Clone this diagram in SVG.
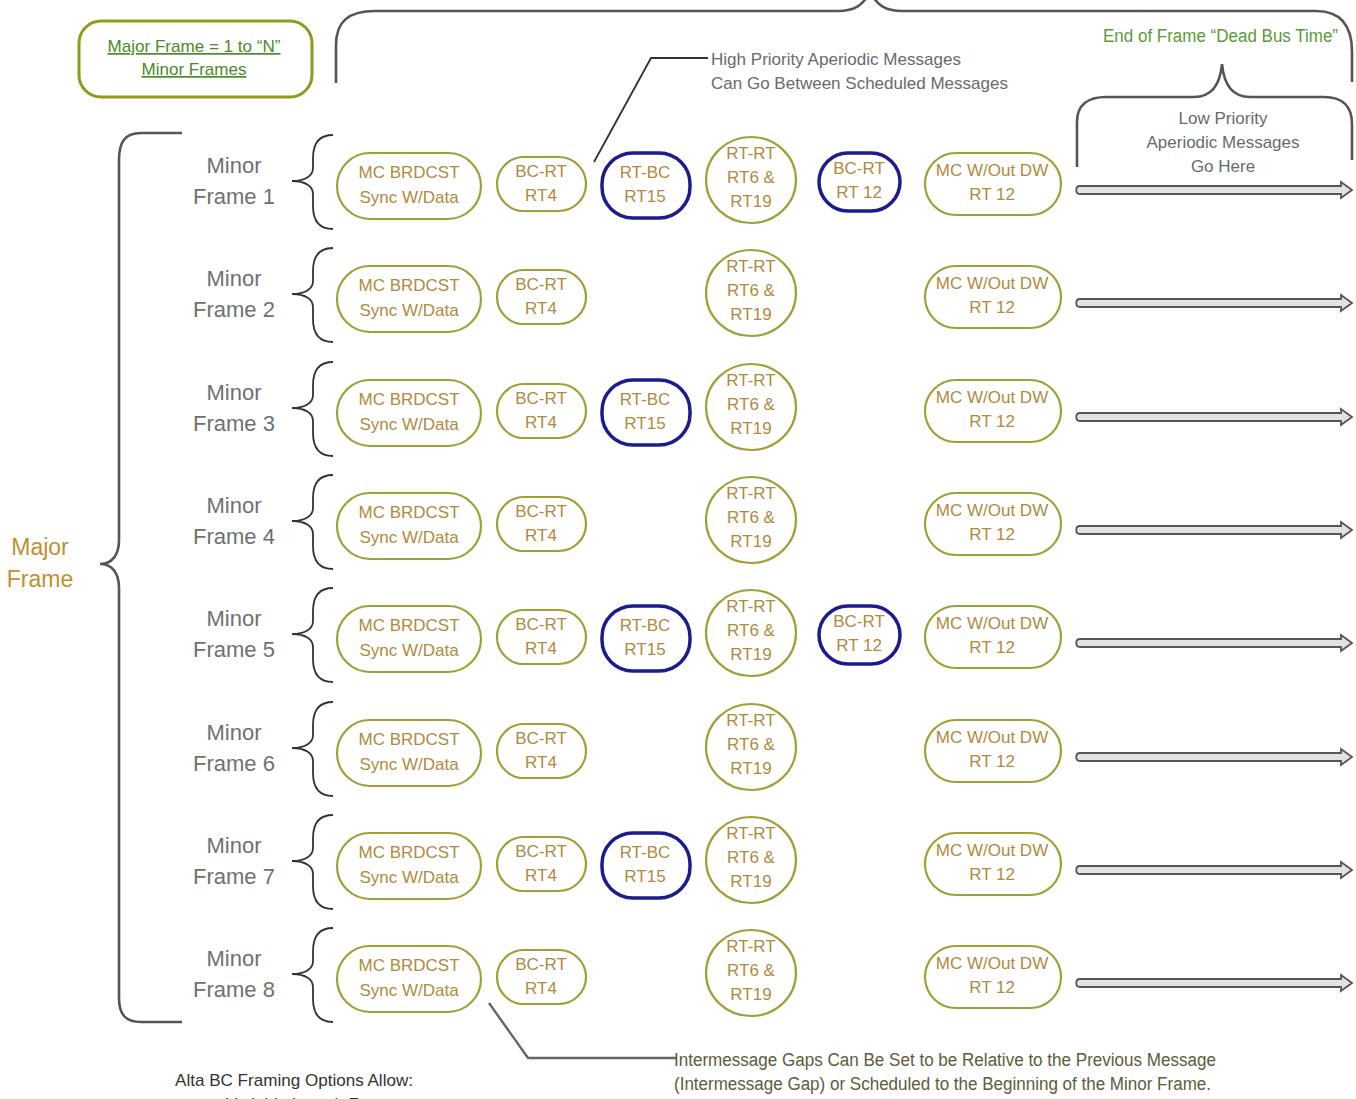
<svg xmlns="http://www.w3.org/2000/svg" width="1356" height="1099" viewBox="0 0 1356 1099">
<style>
text{font-family:"Liberation Sans",Arial,sans-serif}
.nt{font-size:17px;fill:#b08a3e;text-anchor:middle}
.mf{font-size:22px;fill:#707070;text-anchor:middle}
.ol{fill:#fff;stroke:#a0a038;stroke-width:2.2}
.bl{fill:#fff;stroke:#1c1c8e;stroke-width:3.5}
.br{fill:none;stroke:#333;stroke-width:1.8}
.bb{fill:none;stroke:#555;stroke-width:2.6}
.ld{fill:none;stroke:#333;stroke-width:1.8}
.ar{fill:#e2e2e2;stroke:#555;stroke-width:1.8;stroke-linejoin:miter}
.gt{font-size:17px;fill:#6a6a6a}
</style>
<rect width="1356" height="1099" fill="#fff"/>

<g id="connectors">
<path class="bb" d="M336,83 L336,45 C336,22 348,11 375,11 L838,11 C855,11 863,5 870,-8 C877,5 885,11 902,11 L1316,11 C1340,11 1352,25 1352,52 L1352,82"/>
<path class="bb" d="M1077,167 L1077,122 C1077,105 1088,97 1106,97 L1194,97 C1211,97 1220,86 1222,64 C1224,86 1233,97 1250,97 L1324,97 C1342,97 1352,106 1352,124 L1352,160"/>
<path class="bb" d="M182,133 L141,133 C125,133 119,142 119,160 L119,540 C119,555 112,564 100,564 C112,564 119,573 119,588 L119,998 C119,1014 125,1022 141,1022 L182,1022"/>
<path class="ld" d="M594,162 L651,58 L708,58"/>
<path class="ld" style="stroke:#666;stroke-width:2.4" d="M489,1003 L528,1058 L676,1058"/>
</g>

<g id="major-frame-box">
<rect x="79" y="21" width="233" height="76" rx="22" fill="#fff" stroke="#8f9a1e" stroke-width="3"/>
<text x="194" y="52" font-size="17" fill="#4a8a2a" text-anchor="middle" text-decoration="underline" textLength="173" lengthAdjust="spacingAndGlyphs">Major Frame = 1 to “N”</text>
<text x="194" y="75" font-size="17" fill="#4a8a2a" text-anchor="middle" text-decoration="underline">Minor Frames</text>
</g>

<g id="major-frame-label">
<text x="40" y="555" font-size="23" fill="#c0902e" text-anchor="middle">Major</text>
<text x="40" y="587" font-size="23" fill="#c0902e" text-anchor="middle">Frame</text>
</g>

<g id="high-priority-note">
<text class="gt" x="711" y="65" textLength="250" lengthAdjust="spacingAndGlyphs">High Priority Aperiodic Messages</text>
<text class="gt" x="711" y="89" textLength="297" lengthAdjust="spacingAndGlyphs">Can Go Between Scheduled Messages</text>
</g>

<g id="dead-bus-note">
<text x="1103" y="42" font-size="18" fill="#5a9a3a" textLength="235" lengthAdjust="spacingAndGlyphs">End of Frame “Dead Bus Time”</text>
</g>

<g id="low-priority-note">
<text class="gt" x="1223" y="124" text-anchor="middle">Low Priority</text>
<text class="gt" x="1223" y="148" text-anchor="middle" textLength="153" lengthAdjust="spacingAndGlyphs">Aperiodic Messages</text>
<text class="gt" x="1223" y="172" text-anchor="middle">Go Here</text>
</g>

<g id="intermessage-note">
<text x="674" y="1066" font-size="18" fill="#5c5c3c" textLength="542" lengthAdjust="spacingAndGlyphs">Intermessage Gaps Can Be Set to be Relative to the Previous Message</text>
<text x="674" y="1090" font-size="18" fill="#5c5c3c" textLength="537" lengthAdjust="spacingAndGlyphs">(Intermessage Gap) or Scheduled to the Beginning of the Minor Frame.</text>
</g>

<g id="framing-options">
<text x="175" y="1086" font-size="17" fill="#333" textLength="238" lengthAdjust="spacingAndGlyphs">Alta BC Framing Options Allow:</text>
<text x="226" y="1110" font-size="17" fill="#333">Variable Length Frames</text>
</g>

<!-- Row 1 -->
<g id="row1">
<g id="mf1-label"><path class="br" d="M333,135 C318,135 313,145 313,158 L313,168 C313,176 305,181 292,181 C305,181 313,186 313,194 L313,206 C313,219 318,229 333,229"/><text class="mf" x="234" y="173">Minor</text><text class="mf" x="234" y="204">Frame 1</text></g>
<g id="mf1-mc"><rect class="ol" x="337" y="153" width="144" height="66" rx="33"/><text class="nt" x="409" y="178">MC BRDCST</text><text class="nt" x="409" y="203">Sync W/Data</text></g>
<g id="mf1-bcrt4"><rect class="ol" x="497" y="157" width="89" height="54" rx="27"/><text class="nt" x="541" y="177">BC-RT</text><text class="nt" x="541" y="201">RT4</text></g>
<g id="mf1-rtbc15"><rect class="bl" x="602" y="153" width="88" height="65" rx="31"/><text class="nt" x="645" y="178">RT-BC</text><text class="nt" x="645" y="202">RT15</text></g>
<g id="mf1-rtrt"><ellipse class="ol" cx="751" cy="180" rx="45" ry="43"/><text class="nt" x="751" y="159">RT-RT</text><text class="nt" x="751" y="183">RT6 &amp;</text><text class="nt" x="751" y="207">RT19</text></g>
<g id="mf1-bcrt12"><rect class="bl" x="819" y="153" width="81" height="58" rx="29"/><text class="nt" x="859" y="174">BC-RT</text><text class="nt" x="859" y="198">RT 12</text></g>
<g id="mf1-mcwo"><rect class="ol" x="925" y="153" width="136" height="62" rx="31"/><text class="nt" x="992" y="176">MC W/Out DW</text><text class="nt" x="992" y="200">RT 12</text></g>
<g id="mf1-arrow"><path class="ar" d="M1080,186 L1341,186 L1341,182 L1352,190 L1341,198 L1341,194 L1080,194 C1075,194 1075,186 1080,186 Z"/></g>
</g>

<!-- Row 2 -->
<g id="row2" transform="translate(0,113)">
<g id="mf2-label"><path class="br" d="M333,135 C318,135 313,145 313,158 L313,168 C313,176 305,181 292,181 C305,181 313,186 313,194 L313,206 C313,219 318,229 333,229"/><text class="mf" x="234" y="173">Minor</text><text class="mf" x="234" y="204">Frame 2</text></g>
<g id="mf2-mc"><rect class="ol" x="337" y="153" width="144" height="66" rx="33"/><text class="nt" x="409" y="178">MC BRDCST</text><text class="nt" x="409" y="203">Sync W/Data</text></g>
<g id="mf2-bcrt4"><rect class="ol" x="497" y="157" width="89" height="54" rx="27"/><text class="nt" x="541" y="177">BC-RT</text><text class="nt" x="541" y="201">RT4</text></g>
<g id="mf2-rtrt"><ellipse class="ol" cx="751" cy="180" rx="45" ry="43"/><text class="nt" x="751" y="159">RT-RT</text><text class="nt" x="751" y="183">RT6 &amp;</text><text class="nt" x="751" y="207">RT19</text></g>
<g id="mf2-mcwo"><rect class="ol" x="925" y="153" width="136" height="62" rx="31"/><text class="nt" x="992" y="176">MC W/Out DW</text><text class="nt" x="992" y="200">RT 12</text></g>
<g id="mf2-arrow"><path class="ar" d="M1080,186 L1341,186 L1341,182 L1352,190 L1341,198 L1341,194 L1080,194 C1075,194 1075,186 1080,186 Z"/></g>
</g>

<!-- Row 3 -->
<g id="row3" transform="translate(0,227)">
<g id="mf3-label"><path class="br" d="M333,135 C318,135 313,145 313,158 L313,168 C313,176 305,181 292,181 C305,181 313,186 313,194 L313,206 C313,219 318,229 333,229"/><text class="mf" x="234" y="173">Minor</text><text class="mf" x="234" y="204">Frame 3</text></g>
<g id="mf3-mc"><rect class="ol" x="337" y="153" width="144" height="66" rx="33"/><text class="nt" x="409" y="178">MC BRDCST</text><text class="nt" x="409" y="203">Sync W/Data</text></g>
<g id="mf3-bcrt4"><rect class="ol" x="497" y="157" width="89" height="54" rx="27"/><text class="nt" x="541" y="177">BC-RT</text><text class="nt" x="541" y="201">RT4</text></g>
<g id="mf3-rtbc15"><rect class="bl" x="602" y="153" width="88" height="65" rx="31"/><text class="nt" x="645" y="178">RT-BC</text><text class="nt" x="645" y="202">RT15</text></g>
<g id="mf3-rtrt"><ellipse class="ol" cx="751" cy="180" rx="45" ry="43"/><text class="nt" x="751" y="159">RT-RT</text><text class="nt" x="751" y="183">RT6 &amp;</text><text class="nt" x="751" y="207">RT19</text></g>
<g id="mf3-mcwo"><rect class="ol" x="925" y="153" width="136" height="62" rx="31"/><text class="nt" x="992" y="176">MC W/Out DW</text><text class="nt" x="992" y="200">RT 12</text></g>
<g id="mf3-arrow"><path class="ar" d="M1080,186 L1341,186 L1341,182 L1352,190 L1341,198 L1341,194 L1080,194 C1075,194 1075,186 1080,186 Z"/></g>
</g>

<!-- Row 4 -->
<g id="row4" transform="translate(0,340)">
<g id="mf4-label"><path class="br" d="M333,135 C318,135 313,145 313,158 L313,168 C313,176 305,181 292,181 C305,181 313,186 313,194 L313,206 C313,219 318,229 333,229"/><text class="mf" x="234" y="173">Minor</text><text class="mf" x="234" y="204">Frame 4</text></g>
<g id="mf4-mc"><rect class="ol" x="337" y="153" width="144" height="66" rx="33"/><text class="nt" x="409" y="178">MC BRDCST</text><text class="nt" x="409" y="203">Sync W/Data</text></g>
<g id="mf4-bcrt4"><rect class="ol" x="497" y="157" width="89" height="54" rx="27"/><text class="nt" x="541" y="177">BC-RT</text><text class="nt" x="541" y="201">RT4</text></g>
<g id="mf4-rtrt"><ellipse class="ol" cx="751" cy="180" rx="45" ry="43"/><text class="nt" x="751" y="159">RT-RT</text><text class="nt" x="751" y="183">RT6 &amp;</text><text class="nt" x="751" y="207">RT19</text></g>
<g id="mf4-mcwo"><rect class="ol" x="925" y="153" width="136" height="62" rx="31"/><text class="nt" x="992" y="176">MC W/Out DW</text><text class="nt" x="992" y="200">RT 12</text></g>
<g id="mf4-arrow"><path class="ar" d="M1080,186 L1341,186 L1341,182 L1352,190 L1341,198 L1341,194 L1080,194 C1075,194 1075,186 1080,186 Z"/></g>
</g>

<!-- Row 5 -->
<g id="row5" transform="translate(0,453)">
<g id="mf5-label"><path class="br" d="M333,135 C318,135 313,145 313,158 L313,168 C313,176 305,181 292,181 C305,181 313,186 313,194 L313,206 C313,219 318,229 333,229"/><text class="mf" x="234" y="173">Minor</text><text class="mf" x="234" y="204">Frame 5</text></g>
<g id="mf5-mc"><rect class="ol" x="337" y="153" width="144" height="66" rx="33"/><text class="nt" x="409" y="178">MC BRDCST</text><text class="nt" x="409" y="203">Sync W/Data</text></g>
<g id="mf5-bcrt4"><rect class="ol" x="497" y="157" width="89" height="54" rx="27"/><text class="nt" x="541" y="177">BC-RT</text><text class="nt" x="541" y="201">RT4</text></g>
<g id="mf5-rtbc15"><rect class="bl" x="602" y="153" width="88" height="65" rx="31"/><text class="nt" x="645" y="178">RT-BC</text><text class="nt" x="645" y="202">RT15</text></g>
<g id="mf5-rtrt"><ellipse class="ol" cx="751" cy="180" rx="45" ry="43"/><text class="nt" x="751" y="159">RT-RT</text><text class="nt" x="751" y="183">RT6 &amp;</text><text class="nt" x="751" y="207">RT19</text></g>
<g id="mf5-bcrt12"><rect class="bl" x="819" y="153" width="81" height="58" rx="29"/><text class="nt" x="859" y="174">BC-RT</text><text class="nt" x="859" y="198">RT 12</text></g>
<g id="mf5-mcwo"><rect class="ol" x="925" y="153" width="136" height="62" rx="31"/><text class="nt" x="992" y="176">MC W/Out DW</text><text class="nt" x="992" y="200">RT 12</text></g>
<g id="mf5-arrow"><path class="ar" d="M1080,186 L1341,186 L1341,182 L1352,190 L1341,198 L1341,194 L1080,194 C1075,194 1075,186 1080,186 Z"/></g>
</g>

<!-- Row 6 -->
<g id="row6" transform="translate(0,567)">
<g id="mf6-label"><path class="br" d="M333,135 C318,135 313,145 313,158 L313,168 C313,176 305,181 292,181 C305,181 313,186 313,194 L313,206 C313,219 318,229 333,229"/><text class="mf" x="234" y="173">Minor</text><text class="mf" x="234" y="204">Frame 6</text></g>
<g id="mf6-mc"><rect class="ol" x="337" y="153" width="144" height="66" rx="33"/><text class="nt" x="409" y="178">MC BRDCST</text><text class="nt" x="409" y="203">Sync W/Data</text></g>
<g id="mf6-bcrt4"><rect class="ol" x="497" y="157" width="89" height="54" rx="27"/><text class="nt" x="541" y="177">BC-RT</text><text class="nt" x="541" y="201">RT4</text></g>
<g id="mf6-rtrt"><ellipse class="ol" cx="751" cy="180" rx="45" ry="43"/><text class="nt" x="751" y="159">RT-RT</text><text class="nt" x="751" y="183">RT6 &amp;</text><text class="nt" x="751" y="207">RT19</text></g>
<g id="mf6-mcwo"><rect class="ol" x="925" y="153" width="136" height="62" rx="31"/><text class="nt" x="992" y="176">MC W/Out DW</text><text class="nt" x="992" y="200">RT 12</text></g>
<g id="mf6-arrow"><path class="ar" d="M1080,186 L1341,186 L1341,182 L1352,190 L1341,198 L1341,194 L1080,194 C1075,194 1075,186 1080,186 Z"/></g>
</g>

<!-- Row 7 -->
<g id="row7" transform="translate(0,680)">
<g id="mf7-label"><path class="br" d="M333,135 C318,135 313,145 313,158 L313,168 C313,176 305,181 292,181 C305,181 313,186 313,194 L313,206 C313,219 318,229 333,229"/><text class="mf" x="234" y="173">Minor</text><text class="mf" x="234" y="204">Frame 7</text></g>
<g id="mf7-mc"><rect class="ol" x="337" y="153" width="144" height="66" rx="33"/><text class="nt" x="409" y="178">MC BRDCST</text><text class="nt" x="409" y="203">Sync W/Data</text></g>
<g id="mf7-bcrt4"><rect class="ol" x="497" y="157" width="89" height="54" rx="27"/><text class="nt" x="541" y="177">BC-RT</text><text class="nt" x="541" y="201">RT4</text></g>
<g id="mf7-rtbc15"><rect class="bl" x="602" y="153" width="88" height="65" rx="31"/><text class="nt" x="645" y="178">RT-BC</text><text class="nt" x="645" y="202">RT15</text></g>
<g id="mf7-rtrt"><ellipse class="ol" cx="751" cy="180" rx="45" ry="43"/><text class="nt" x="751" y="159">RT-RT</text><text class="nt" x="751" y="183">RT6 &amp;</text><text class="nt" x="751" y="207">RT19</text></g>
<g id="mf7-mcwo"><rect class="ol" x="925" y="153" width="136" height="62" rx="31"/><text class="nt" x="992" y="176">MC W/Out DW</text><text class="nt" x="992" y="200">RT 12</text></g>
<g id="mf7-arrow"><path class="ar" d="M1080,186 L1341,186 L1341,182 L1352,190 L1341,198 L1341,194 L1080,194 C1075,194 1075,186 1080,186 Z"/></g>
</g>

<!-- Row 8 -->
<g id="row8" transform="translate(0,793)">
<g id="mf8-label"><path class="br" d="M333,135 C318,135 313,145 313,158 L313,168 C313,176 305,181 292,181 C305,181 313,186 313,194 L313,206 C313,219 318,229 333,229"/><text class="mf" x="234" y="173">Minor</text><text class="mf" x="234" y="204">Frame 8</text></g>
<g id="mf8-mc"><rect class="ol" x="337" y="153" width="144" height="66" rx="33"/><text class="nt" x="409" y="178">MC BRDCST</text><text class="nt" x="409" y="203">Sync W/Data</text></g>
<g id="mf8-bcrt4"><rect class="ol" x="497" y="157" width="89" height="54" rx="27"/><text class="nt" x="541" y="177">BC-RT</text><text class="nt" x="541" y="201">RT4</text></g>
<g id="mf8-rtrt"><ellipse class="ol" cx="751" cy="180" rx="45" ry="43"/><text class="nt" x="751" y="159">RT-RT</text><text class="nt" x="751" y="183">RT6 &amp;</text><text class="nt" x="751" y="207">RT19</text></g>
<g id="mf8-mcwo"><rect class="ol" x="925" y="153" width="136" height="62" rx="31"/><text class="nt" x="992" y="176">MC W/Out DW</text><text class="nt" x="992" y="200">RT 12</text></g>
<g id="mf8-arrow"><path class="ar" d="M1080,186 L1341,186 L1341,182 L1352,190 L1341,198 L1341,194 L1080,194 C1075,194 1075,186 1080,186 Z"/></g>
</g>
</svg>
